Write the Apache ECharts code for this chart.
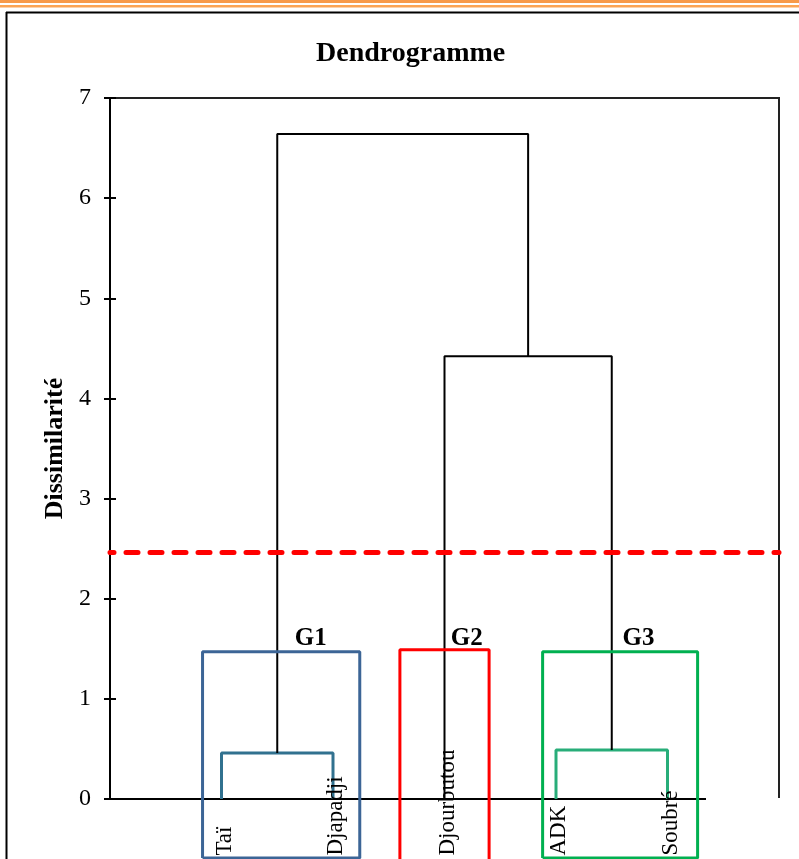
<!DOCTYPE html>
<html>
<head>
<meta charset="utf-8">
<script src="https://cdn.jsdelivr.net/npm/echarts@6/dist/echarts.min.js"></script>
<style>
  html, body { margin: 0; padding: 0; background: #fff; }
  #chart { width: 799px; height: 859px; }
</style>
</head>
<body>
<div id="chart"></div>
<script>
// feuilles du dendrogramme, dans l'ordre de l'axe
const leaves = ['Taï', 'Djapadji', 'Djourbutou', 'ADK', 'Soubré'];
const leafX = [1, 2, 3, 4, 5];
// fusions : [noeud a, noeud b, hauteur] (0-4 = feuilles, 5+ = fusions)
const merges = [
  [0, 1, 0.46],
  [3, 4, 0.49],
  [2, 6, 4.42],
  [5, 7, 6.64]
];
const mergeColors = ['#31718f', '#28ad79', '#000', '#000'];
const cutHeight = 2.455;
const yTicks = [0, 1, 2, 3, 4, 5, 6, 7];
// groupes : nom, x gauche, x droit, haut, bas
const groupNames = ['G1', 'G2', 'G3'];
const groupBox = [
  [0.83, 2.24, 1.47, -0.59],
  [2.60, 3.40, 1.49, -0.8],
  [3.88, 5.27, 1.47, -0.59]
];
const groupLabelX = [1.80, 3.20, 4.74];
const groupColors = ['#3c6596', '#ff0000', '#00b050'];

const serif = 'Liberation Serif';

// position de chaque noeud
const nodeX = leafX.slice();
const nodeY = leafX.map(function () { return 0; });
merges.forEach(function (m) {
  nodeX.push((nodeX[m[0]] + nodeX[m[1]]) / 2);
  nodeY.push(m[2]);
});

const series = [];
merges.forEach(function (m, i) {
  const a = m[0], b = m[1], h = m[2];
  series.push({
    type: 'line',
    data: [[nodeX[a], nodeY[a]], [nodeX[a], h], [nodeX[b], h], [nodeX[b], nodeY[b]]],
    symbol: 'none',
    silent: true,
    lineStyle: { color: mergeColors[i], width: i < 2 ? 3 : 2 },
    z: 3
  });
});

// ligne de coupure
series[0].markLine = {
  symbol: ['none', 'none'],
  silent: true,
  label: { show: false },
  lineStyle: { color: '#ff0000', width: 5, type: [12, 12], dashOffset: 8, cap: 'round' },
  data: [{ yAxis: cutHeight }]
};

// cadres des groupes
groupBox.forEach(function (g, i) {
  series.push({
    type: 'line',
    data: [[g[0], g[3]], [g[0], g[2]], [g[1], g[2]], [g[1], g[3]], [g[0], g[3]]],
    symbol: 'none',
    silent: true,
    clip: false,
    lineStyle: { color: groupColors[i], width: 3 },
    z: 4
  });
});

// étiquettes des groupes
series.push({
  type: 'scatter',
  symbolSize: 0,
  silent: true,
  itemStyle: { color: '#000', opacity: 1 },
  data: groupNames.map(function (n, i) { return { value: [groupLabelX[i], 1.60], name: n }; }),
  label: {
    show: true,
    position: 'inside',
    formatter: '{b}',
    fontFamily: serif,
    fontWeight: 'bold',
    fontSize: 25,
    color: '#000',
    textBorderWidth: 0
  },
  z: 5
});

// étiquettes des feuilles
series.push({
  type: 'scatter',
  symbolSize: 0,
  silent: true,
  clip: false,
  itemStyle: { color: '#000', opacity: 1 },
  data: leaves.map(function (n, i) { return { value: [leafX[i], -0.565], name: n }; }),
  label: {
    show: true,
    position: 'inside',
    formatter: '{b}',
    rotate: 90,
    align: 'left',
    verticalAlign: 'middle',
    offset: [0, 3],
    fontFamily: serif,
    fontSize: 23,
    color: '#000',
    textBorderWidth: 0
  },
  z: 5
});

const myChart = echarts.init(document.getElementById('chart'));

const option = {
  animation: false,
  backgroundColor: '#fff',
  title: {
    text: 'Dendrogramme',
    left: 311,
    top: 35,
    textStyle: { fontFamily: serif, fontWeight: 'bold', fontSize: 28, color: '#000' }
  },
  grid: {
    left: 110, right: 20, top: 98, bottom: 60,
    show: true, borderColor: '#222', borderWidth: 2
  },
  xAxis: {
    type: 'value',
    min: 0, max: 6,
    axisLine: { show: true, onZero: false, lineStyle: { color: '#000', width: 2 } },
    axisTick: { show: false },
    axisLabel: { show: false },
    splitLine: { show: false }
  },
  yAxis: [
    {
      type: 'value',
      min: 0, max: 7, interval: 1,
      name: 'Dissimilarité',
      nameLocation: 'middle',
      nameRotate: 90,
      nameGap: 40,
      nameTextStyle: { fontFamily: serif, fontWeight: 'bold', fontSize: 26, color: '#000' },
      axisLine: { show: true, lineStyle: { color: '#000', width: 2 } },
      axisTick: { show: true, length: 6, lineStyle: { color: '#000', width: 2 } },
      axisLabel: {
        margin: 19,
        fontFamily: serif, fontSize: 24, color: '#000',
        formatter: function (v) { return yTicks.indexOf(v) >= 0 ? String(v) : ''; }
      },
      splitLine: { show: false }
    },
    {
      type: 'value',
      min: 0, max: 7, interval: 1,
      position: 'left',
      axisLine: { show: false },
      axisTick: { show: true, inside: true, length: 6, lineStyle: { color: '#000', width: 2 } },
      axisLabel: { show: false },
      splitLine: { show: false }
    }
  ],
  graphic: [
    // bandeau orange en haut
    { type: 'rect', shape: { x: 0, y: 0, width: 799, height: 3 }, style: { fill: '#f79a4a' }, z: 100 },
    { type: 'rect', shape: { x: 0, y: 5, width: 799, height: 2.5 }, style: { fill: '#fba454' }, z: 100 },
    // cadre noir
    { type: 'line', shape: { x1: 6, y1: 12.5, x2: 799, y2: 12.5 }, style: { stroke: '#000', lineWidth: 2 }, z: 100 },
    { type: 'line', shape: { x1: 6.5, y1: 12, x2: 6.5, y2: 859 }, style: { stroke: '#000', lineWidth: 2 }, z: 100 },
    // zone blanche en bas à droite
    { type: 'rect', shape: { x: 706, y: 798, width: 93, height: 61 }, style: { fill: '#fff' }, z: 100 }
  ],
  series: series
};

myChart.setOption(option);
</script>
</body>
</html>
